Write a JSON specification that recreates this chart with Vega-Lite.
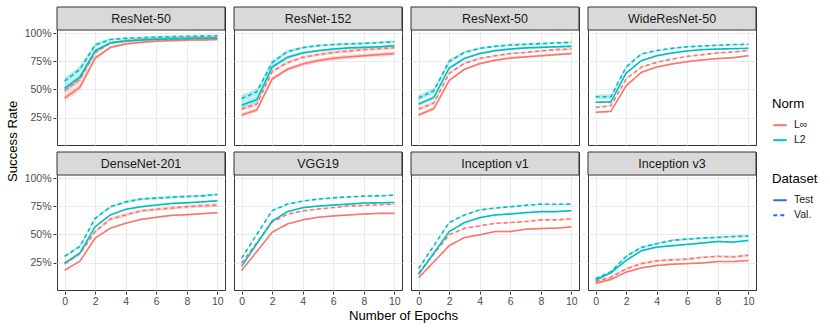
{
"$schema": "https://vega.github.io/schema/vega-lite/v6.json",
"background": "white",
"padding": {"left": 5, "top": 5, "right": 0, "bottom": 4},
"title": {"text": "Success Rate", "orient": "left", "anchor": "middle", "fontSize": 13.2, "fontWeight": "normal", "color": "#000000", "font": "Liberation Sans", "offset": 4, "dx": 22},
"vconcat": [{
"data": {"values": [
{"model":"ResNet-50","norm":"L∞","set":"Test","epoch":0,"rate":0.424,"lo":0.394,"hi":0.454},
{"model":"ResNet-50","norm":"L∞","set":"Test","epoch":1,"rate":0.52,"lo":0.49,"hi":0.55},
{"model":"ResNet-50","norm":"L∞","set":"Test","epoch":2,"rate":0.78,"lo":0.76,"hi":0.80},
{"model":"ResNet-50","norm":"L∞","set":"Test","epoch":3,"rate":0.875,"lo":0.863,"hi":0.887},
{"model":"ResNet-50","norm":"L∞","set":"Test","epoch":4,"rate":0.905,"lo":0.895,"hi":0.915},
{"model":"ResNet-50","norm":"L∞","set":"Test","epoch":5,"rate":0.92,"lo":0.91,"hi":0.93},
{"model":"ResNet-50","norm":"L∞","set":"Test","epoch":6,"rate":0.93,"lo":0.92,"hi":0.94},
{"model":"ResNet-50","norm":"L∞","set":"Test","epoch":7,"rate":0.935,"lo":0.925,"hi":0.945},
{"model":"ResNet-50","norm":"L∞","set":"Test","epoch":8,"rate":0.94,"lo":0.93,"hi":0.95},
{"model":"ResNet-50","norm":"L∞","set":"Test","epoch":9,"rate":0.94,"lo":0.93,"hi":0.95},
{"model":"ResNet-50","norm":"L∞","set":"Test","epoch":10,"rate":0.945,"lo":0.935,"hi":0.955},
{"model":"ResNet-50","norm":"L∞","set":"Val.","epoch":0,"rate":0.49,"lo":0.46,"hi":0.52},
{"model":"ResNet-50","norm":"L∞","set":"Val.","epoch":1,"rate":0.59,"lo":0.56,"hi":0.62},
{"model":"ResNet-50","norm":"L∞","set":"Val.","epoch":2,"rate":0.83,"lo":0.81,"hi":0.85},
{"model":"ResNet-50","norm":"L∞","set":"Val.","epoch":3,"rate":0.915,"lo":0.903,"hi":0.927},
{"model":"ResNet-50","norm":"L∞","set":"Val.","epoch":4,"rate":0.935,"lo":0.925,"hi":0.945},
{"model":"ResNet-50","norm":"L∞","set":"Val.","epoch":5,"rate":0.945,"lo":0.935,"hi":0.955},
{"model":"ResNet-50","norm":"L∞","set":"Val.","epoch":6,"rate":0.95,"lo":0.94,"hi":0.96},
{"model":"ResNet-50","norm":"L∞","set":"Val.","epoch":7,"rate":0.955,"lo":0.945,"hi":0.965},
{"model":"ResNet-50","norm":"L∞","set":"Val.","epoch":8,"rate":0.958,"lo":0.948,"hi":0.968},
{"model":"ResNet-50","norm":"L∞","set":"Val.","epoch":9,"rate":0.96,"lo":0.95,"hi":0.97},
{"model":"ResNet-50","norm":"L∞","set":"Val.","epoch":10,"rate":0.963,"lo":0.953,"hi":0.973},
{"model":"ResNet-50","norm":"L2","set":"Test","epoch":0,"rate":0.51,"lo":0.48,"hi":0.54},
{"model":"ResNet-50","norm":"L2","set":"Test","epoch":1,"rate":0.61,"lo":0.58,"hi":0.64},
{"model":"ResNet-50","norm":"L2","set":"Test","epoch":2,"rate":0.845,"lo":0.825,"hi":0.865},
{"model":"ResNet-50","norm":"L2","set":"Test","epoch":3,"rate":0.915,"lo":0.903,"hi":0.927},
{"model":"ResNet-50","norm":"L2","set":"Test","epoch":4,"rate":0.93,"lo":0.92,"hi":0.94},
{"model":"ResNet-50","norm":"L2","set":"Test","epoch":5,"rate":0.94,"lo":0.93,"hi":0.95},
{"model":"ResNet-50","norm":"L2","set":"Test","epoch":6,"rate":0.945,"lo":0.935,"hi":0.955},
{"model":"ResNet-50","norm":"L2","set":"Test","epoch":7,"rate":0.95,"lo":0.94,"hi":0.96},
{"model":"ResNet-50","norm":"L2","set":"Test","epoch":8,"rate":0.952,"lo":0.942,"hi":0.962},
{"model":"ResNet-50","norm":"L2","set":"Test","epoch":9,"rate":0.955,"lo":0.945,"hi":0.965},
{"model":"ResNet-50","norm":"L2","set":"Test","epoch":10,"rate":0.957,"lo":0.947,"hi":0.967},
{"model":"ResNet-50","norm":"L2","set":"Val.","epoch":0,"rate":0.575,"lo":0.545,"hi":0.605},
{"model":"ResNet-50","norm":"L2","set":"Val.","epoch":1,"rate":0.68,"lo":0.65,"hi":0.71},
{"model":"ResNet-50","norm":"L2","set":"Val.","epoch":2,"rate":0.895,"lo":0.875,"hi":0.915},
{"model":"ResNet-50","norm":"L2","set":"Val.","epoch":3,"rate":0.945,"lo":0.933,"hi":0.957},
{"model":"ResNet-50","norm":"L2","set":"Val.","epoch":4,"rate":0.955,"lo":0.945,"hi":0.965},
{"model":"ResNet-50","norm":"L2","set":"Val.","epoch":5,"rate":0.96,"lo":0.95,"hi":0.97},
{"model":"ResNet-50","norm":"L2","set":"Val.","epoch":6,"rate":0.965,"lo":0.955,"hi":0.975},
{"model":"ResNet-50","norm":"L2","set":"Val.","epoch":7,"rate":0.97,"lo":0.96,"hi":0.98},
{"model":"ResNet-50","norm":"L2","set":"Val.","epoch":8,"rate":0.972,"lo":0.962,"hi":0.982},
{"model":"ResNet-50","norm":"L2","set":"Val.","epoch":9,"rate":0.975,"lo":0.965,"hi":0.985},
{"model":"ResNet-50","norm":"L2","set":"Val.","epoch":10,"rate":0.977,"lo":0.967,"hi":0.987},
{"model":"ResNet-152","norm":"L∞","set":"Test","epoch":0,"rate":0.273,"lo":0.255,"hi":0.291},
{"model":"ResNet-152","norm":"L∞","set":"Test","epoch":1,"rate":0.318,"lo":0.30,"hi":0.336},
{"model":"ResNet-152","norm":"L∞","set":"Test","epoch":2,"rate":0.594,"lo":0.576,"hi":0.612},
{"model":"ResNet-152","norm":"L∞","set":"Test","epoch":3,"rate":0.68,"lo":0.662,"hi":0.698},
{"model":"ResNet-152","norm":"L∞","set":"Test","epoch":4,"rate":0.727,"lo":0.709,"hi":0.745},
{"model":"ResNet-152","norm":"L∞","set":"Test","epoch":5,"rate":0.757,"lo":0.739,"hi":0.775},
{"model":"ResNet-152","norm":"L∞","set":"Test","epoch":6,"rate":0.777,"lo":0.759,"hi":0.795},
{"model":"ResNet-152","norm":"L∞","set":"Test","epoch":7,"rate":0.79,"lo":0.772,"hi":0.808},
{"model":"ResNet-152","norm":"L∞","set":"Test","epoch":8,"rate":0.80,"lo":0.782,"hi":0.818},
{"model":"ResNet-152","norm":"L∞","set":"Test","epoch":9,"rate":0.81,"lo":0.792,"hi":0.828},
{"model":"ResNet-152","norm":"L∞","set":"Test","epoch":10,"rate":0.82,"lo":0.802,"hi":0.838},
{"model":"ResNet-152","norm":"L∞","set":"Val.","epoch":0,"rate":0.326,"lo":0.311,"hi":0.341},
{"model":"ResNet-152","norm":"L∞","set":"Val.","epoch":1,"rate":0.37,"lo":0.355,"hi":0.385},
{"model":"ResNet-152","norm":"L∞","set":"Val.","epoch":2,"rate":0.66,"lo":0.645,"hi":0.675},
{"model":"ResNet-152","norm":"L∞","set":"Val.","epoch":3,"rate":0.74,"lo":0.725,"hi":0.755},
{"model":"ResNet-152","norm":"L∞","set":"Val.","epoch":4,"rate":0.786,"lo":0.771,"hi":0.801},
{"model":"ResNet-152","norm":"L∞","set":"Val.","epoch":5,"rate":0.81,"lo":0.795,"hi":0.825},
{"model":"ResNet-152","norm":"L∞","set":"Val.","epoch":6,"rate":0.83,"lo":0.815,"hi":0.845},
{"model":"ResNet-152","norm":"L∞","set":"Val.","epoch":7,"rate":0.843,"lo":0.828,"hi":0.858},
{"model":"ResNet-152","norm":"L∞","set":"Val.","epoch":8,"rate":0.855,"lo":0.84,"hi":0.87},
{"model":"ResNet-152","norm":"L∞","set":"Val.","epoch":9,"rate":0.863,"lo":0.848,"hi":0.878},
{"model":"ResNet-152","norm":"L∞","set":"Val.","epoch":10,"rate":0.872,"lo":0.857,"hi":0.887},
{"model":"ResNet-152","norm":"L2","set":"Test","epoch":0,"rate":0.36,"lo":0.33,"hi":0.39},
{"model":"ResNet-152","norm":"L2","set":"Test","epoch":1,"rate":0.41,"lo":0.38,"hi":0.44},
{"model":"ResNet-152","norm":"L2","set":"Test","epoch":2,"rate":0.70,"lo":0.68,"hi":0.72},
{"model":"ResNet-152","norm":"L2","set":"Test","epoch":3,"rate":0.786,"lo":0.771,"hi":0.801},
{"model":"ResNet-152","norm":"L2","set":"Test","epoch":4,"rate":0.825,"lo":0.813,"hi":0.837},
{"model":"ResNet-152","norm":"L2","set":"Test","epoch":5,"rate":0.845,"lo":0.835,"hi":0.855},
{"model":"ResNet-152","norm":"L2","set":"Test","epoch":6,"rate":0.86,"lo":0.85,"hi":0.87},
{"model":"ResNet-152","norm":"L2","set":"Test","epoch":7,"rate":0.87,"lo":0.86,"hi":0.88},
{"model":"ResNet-152","norm":"L2","set":"Test","epoch":8,"rate":0.875,"lo":0.865,"hi":0.885},
{"model":"ResNet-152","norm":"L2","set":"Test","epoch":9,"rate":0.88,"lo":0.87,"hi":0.89},
{"model":"ResNet-152","norm":"L2","set":"Test","epoch":10,"rate":0.89,"lo":0.88,"hi":0.90},
{"model":"ResNet-152","norm":"L2","set":"Val.","epoch":0,"rate":0.42,"lo":0.39,"hi":0.45},
{"model":"ResNet-152","norm":"L2","set":"Val.","epoch":1,"rate":0.48,"lo":0.45,"hi":0.51},
{"model":"ResNet-152","norm":"L2","set":"Val.","epoch":2,"rate":0.74,"lo":0.72,"hi":0.76},
{"model":"ResNet-152","norm":"L2","set":"Val.","epoch":3,"rate":0.837,"lo":0.822,"hi":0.852},
{"model":"ResNet-152","norm":"L2","set":"Val.","epoch":4,"rate":0.872,"lo":0.86,"hi":0.884},
{"model":"ResNet-152","norm":"L2","set":"Val.","epoch":5,"rate":0.89,"lo":0.88,"hi":0.90},
{"model":"ResNet-152","norm":"L2","set":"Val.","epoch":6,"rate":0.90,"lo":0.89,"hi":0.91},
{"model":"ResNet-152","norm":"L2","set":"Val.","epoch":7,"rate":0.905,"lo":0.895,"hi":0.915},
{"model":"ResNet-152","norm":"L2","set":"Val.","epoch":8,"rate":0.91,"lo":0.90,"hi":0.92},
{"model":"ResNet-152","norm":"L2","set":"Val.","epoch":9,"rate":0.917,"lo":0.907,"hi":0.927},
{"model":"ResNet-152","norm":"L2","set":"Val.","epoch":10,"rate":0.926,"lo":0.916,"hi":0.936},
{"model":"ResNext-50","norm":"L∞","set":"Test","epoch":0,"rate":0.273,"lo":0.258,"hi":0.288},
{"model":"ResNext-50","norm":"L∞","set":"Test","epoch":1,"rate":0.33,"lo":0.315,"hi":0.345},
{"model":"ResNext-50","norm":"L∞","set":"Test","epoch":2,"rate":0.58,"lo":0.568,"hi":0.592},
{"model":"ResNext-50","norm":"L∞","set":"Test","epoch":3,"rate":0.68,"lo":0.67,"hi":0.69},
{"model":"ResNext-50","norm":"L∞","set":"Test","epoch":4,"rate":0.73,"lo":0.72,"hi":0.74},
{"model":"ResNext-50","norm":"L∞","set":"Test","epoch":5,"rate":0.76,"lo":0.75,"hi":0.77},
{"model":"ResNext-50","norm":"L∞","set":"Test","epoch":6,"rate":0.78,"lo":0.77,"hi":0.79},
{"model":"ResNext-50","norm":"L∞","set":"Test","epoch":7,"rate":0.79,"lo":0.78,"hi":0.80},
{"model":"ResNext-50","norm":"L∞","set":"Test","epoch":8,"rate":0.80,"lo":0.79,"hi":0.81},
{"model":"ResNext-50","norm":"L∞","set":"Test","epoch":9,"rate":0.81,"lo":0.80,"hi":0.82},
{"model":"ResNext-50","norm":"L∞","set":"Test","epoch":10,"rate":0.82,"lo":0.81,"hi":0.83},
{"model":"ResNext-50","norm":"L∞","set":"Val.","epoch":0,"rate":0.326,"lo":0.311,"hi":0.341},
{"model":"ResNext-50","norm":"L∞","set":"Val.","epoch":1,"rate":0.38,"lo":0.365,"hi":0.395},
{"model":"ResNext-50","norm":"L∞","set":"Val.","epoch":2,"rate":0.644,"lo":0.632,"hi":0.656},
{"model":"ResNext-50","norm":"L∞","set":"Val.","epoch":3,"rate":0.733,"lo":0.723,"hi":0.743},
{"model":"ResNext-50","norm":"L∞","set":"Val.","epoch":4,"rate":0.777,"lo":0.767,"hi":0.787},
{"model":"ResNext-50","norm":"L∞","set":"Val.","epoch":5,"rate":0.80,"lo":0.79,"hi":0.81},
{"model":"ResNext-50","norm":"L∞","set":"Val.","epoch":6,"rate":0.82,"lo":0.81,"hi":0.83},
{"model":"ResNext-50","norm":"L∞","set":"Val.","epoch":7,"rate":0.83,"lo":0.82,"hi":0.84},
{"model":"ResNext-50","norm":"L∞","set":"Val.","epoch":8,"rate":0.843,"lo":0.833,"hi":0.853},
{"model":"ResNext-50","norm":"L∞","set":"Val.","epoch":9,"rate":0.855,"lo":0.845,"hi":0.865},
{"model":"ResNext-50","norm":"L∞","set":"Val.","epoch":10,"rate":0.86,"lo":0.85,"hi":0.87},
{"model":"ResNext-50","norm":"L2","set":"Test","epoch":0,"rate":0.37,"lo":0.355,"hi":0.385},
{"model":"ResNext-50","norm":"L2","set":"Test","epoch":1,"rate":0.43,"lo":0.415,"hi":0.445},
{"model":"ResNext-50","norm":"L2","set":"Test","epoch":2,"rate":0.69,"lo":0.678,"hi":0.702},
{"model":"ResNext-50","norm":"L2","set":"Test","epoch":3,"rate":0.777,"lo":0.767,"hi":0.787},
{"model":"ResNext-50","norm":"L2","set":"Test","epoch":4,"rate":0.82,"lo":0.81,"hi":0.83},
{"model":"ResNext-50","norm":"L2","set":"Test","epoch":5,"rate":0.845,"lo":0.835,"hi":0.855},
{"model":"ResNext-50","norm":"L2","set":"Test","epoch":6,"rate":0.86,"lo":0.85,"hi":0.87},
{"model":"ResNext-50","norm":"L2","set":"Test","epoch":7,"rate":0.87,"lo":0.86,"hi":0.88},
{"model":"ResNext-50","norm":"L2","set":"Test","epoch":8,"rate":0.875,"lo":0.865,"hi":0.885},
{"model":"ResNext-50","norm":"L2","set":"Test","epoch":9,"rate":0.88,"lo":0.87,"hi":0.89},
{"model":"ResNext-50","norm":"L2","set":"Test","epoch":10,"rate":0.884,"lo":0.874,"hi":0.894},
{"model":"ResNext-50","norm":"L2","set":"Val.","epoch":0,"rate":0.424,"lo":0.399,"hi":0.449},
{"model":"ResNext-50","norm":"L2","set":"Val.","epoch":1,"rate":0.49,"lo":0.465,"hi":0.515},
{"model":"ResNext-50","norm":"L2","set":"Val.","epoch":2,"rate":0.75,"lo":0.73,"hi":0.77},
{"model":"ResNext-50","norm":"L2","set":"Val.","epoch":3,"rate":0.83,"lo":0.818,"hi":0.842},
{"model":"ResNext-50","norm":"L2","set":"Val.","epoch":4,"rate":0.866,"lo":0.856,"hi":0.876},
{"model":"ResNext-50","norm":"L2","set":"Val.","epoch":5,"rate":0.884,"lo":0.874,"hi":0.894},
{"model":"ResNext-50","norm":"L2","set":"Val.","epoch":6,"rate":0.896,"lo":0.886,"hi":0.906},
{"model":"ResNext-50","norm":"L2","set":"Val.","epoch":7,"rate":0.902,"lo":0.892,"hi":0.912},
{"model":"ResNext-50","norm":"L2","set":"Val.","epoch":8,"rate":0.908,"lo":0.898,"hi":0.918},
{"model":"ResNext-50","norm":"L2","set":"Val.","epoch":9,"rate":0.914,"lo":0.904,"hi":0.924},
{"model":"ResNext-50","norm":"L2","set":"Val.","epoch":10,"rate":0.92,"lo":0.91,"hi":0.93},
{"model":"WideResNet-50","norm":"L∞","set":"Test","epoch":0,"rate":0.297,"lo":0.291,"hi":0.303},
{"model":"WideResNet-50","norm":"L∞","set":"Test","epoch":1,"rate":0.305,"lo":0.299,"hi":0.311},
{"model":"WideResNet-50","norm":"L∞","set":"Test","epoch":2,"rate":0.534,"lo":0.528,"hi":0.54},
{"model":"WideResNet-50","norm":"L∞","set":"Test","epoch":3,"rate":0.653,"lo":0.647,"hi":0.659},
{"model":"WideResNet-50","norm":"L∞","set":"Test","epoch":4,"rate":0.70,"lo":0.694,"hi":0.706},
{"model":"WideResNet-50","norm":"L∞","set":"Test","epoch":5,"rate":0.727,"lo":0.721,"hi":0.733},
{"model":"WideResNet-50","norm":"L∞","set":"Test","epoch":6,"rate":0.748,"lo":0.742,"hi":0.754},
{"model":"WideResNet-50","norm":"L∞","set":"Test","epoch":7,"rate":0.763,"lo":0.757,"hi":0.769},
{"model":"WideResNet-50","norm":"L∞","set":"Test","epoch":8,"rate":0.775,"lo":0.769,"hi":0.781},
{"model":"WideResNet-50","norm":"L∞","set":"Test","epoch":9,"rate":0.783,"lo":0.777,"hi":0.789},
{"model":"WideResNet-50","norm":"L∞","set":"Test","epoch":10,"rate":0.80,"lo":0.794,"hi":0.806},
{"model":"WideResNet-50","norm":"L∞","set":"Val.","epoch":0,"rate":0.34,"lo":0.334,"hi":0.346},
{"model":"WideResNet-50","norm":"L∞","set":"Val.","epoch":1,"rate":0.356,"lo":0.35,"hi":0.362},
{"model":"WideResNet-50","norm":"L∞","set":"Val.","epoch":2,"rate":0.594,"lo":0.588,"hi":0.60},
{"model":"WideResNet-50","norm":"L∞","set":"Val.","epoch":3,"rate":0.70,"lo":0.694,"hi":0.706},
{"model":"WideResNet-50","norm":"L∞","set":"Val.","epoch":4,"rate":0.742,"lo":0.736,"hi":0.748},
{"model":"WideResNet-50","norm":"L∞","set":"Val.","epoch":5,"rate":0.77,"lo":0.764,"hi":0.776},
{"model":"WideResNet-50","norm":"L∞","set":"Val.","epoch":6,"rate":0.795,"lo":0.789,"hi":0.801},
{"model":"WideResNet-50","norm":"L∞","set":"Val.","epoch":7,"rate":0.81,"lo":0.804,"hi":0.816},
{"model":"WideResNet-50","norm":"L∞","set":"Val.","epoch":8,"rate":0.825,"lo":0.819,"hi":0.831},
{"model":"WideResNet-50","norm":"L∞","set":"Val.","epoch":9,"rate":0.834,"lo":0.828,"hi":0.84},
{"model":"WideResNet-50","norm":"L∞","set":"Val.","epoch":10,"rate":0.846,"lo":0.84,"hi":0.852},
{"model":"WideResNet-50","norm":"L2","set":"Test","epoch":0,"rate":0.386,"lo":0.38,"hi":0.392},
{"model":"WideResNet-50","norm":"L2","set":"Test","epoch":1,"rate":0.39,"lo":0.384,"hi":0.396},
{"model":"WideResNet-50","norm":"L2","set":"Test","epoch":2,"rate":0.647,"lo":0.641,"hi":0.653},
{"model":"WideResNet-50","norm":"L2","set":"Test","epoch":3,"rate":0.757,"lo":0.751,"hi":0.763},
{"model":"WideResNet-50","norm":"L2","set":"Test","epoch":4,"rate":0.80,"lo":0.794,"hi":0.806},
{"model":"WideResNet-50","norm":"L2","set":"Test","epoch":5,"rate":0.825,"lo":0.819,"hi":0.831},
{"model":"WideResNet-50","norm":"L2","set":"Test","epoch":6,"rate":0.843,"lo":0.837,"hi":0.849},
{"model":"WideResNet-50","norm":"L2","set":"Test","epoch":7,"rate":0.855,"lo":0.849,"hi":0.861},
{"model":"WideResNet-50","norm":"L2","set":"Test","epoch":8,"rate":0.86,"lo":0.854,"hi":0.866},
{"model":"WideResNet-50","norm":"L2","set":"Test","epoch":9,"rate":0.863,"lo":0.857,"hi":0.869},
{"model":"WideResNet-50","norm":"L2","set":"Test","epoch":10,"rate":0.866,"lo":0.86,"hi":0.872},
{"model":"WideResNet-50","norm":"L2","set":"Val.","epoch":0,"rate":0.436,"lo":0.416,"hi":0.456},
{"model":"WideResNet-50","norm":"L2","set":"Val.","epoch":1,"rate":0.436,"lo":0.416,"hi":0.456},
{"model":"WideResNet-50","norm":"L2","set":"Val.","epoch":2,"rate":0.70,"lo":0.688,"hi":0.712},
{"model":"WideResNet-50","norm":"L2","set":"Val.","epoch":3,"rate":0.816,"lo":0.808,"hi":0.824},
{"model":"WideResNet-50","norm":"L2","set":"Val.","epoch":4,"rate":0.846,"lo":0.84,"hi":0.852},
{"model":"WideResNet-50","norm":"L2","set":"Val.","epoch":5,"rate":0.866,"lo":0.86,"hi":0.872},
{"model":"WideResNet-50","norm":"L2","set":"Val.","epoch":6,"rate":0.88,"lo":0.874,"hi":0.886},
{"model":"WideResNet-50","norm":"L2","set":"Val.","epoch":7,"rate":0.887,"lo":0.881,"hi":0.893},
{"model":"WideResNet-50","norm":"L2","set":"Val.","epoch":8,"rate":0.893,"lo":0.887,"hi":0.899},
{"model":"WideResNet-50","norm":"L2","set":"Val.","epoch":9,"rate":0.90,"lo":0.894,"hi":0.906},
{"model":"WideResNet-50","norm":"L2","set":"Val.","epoch":10,"rate":0.902,"lo":0.896,"hi":0.908},
{"model":"DenseNet-201","norm":"L∞","set":"Test","epoch":0,"rate":0.182,"lo":0.176,"hi":0.188},
{"model":"DenseNet-201","norm":"L∞","set":"Test","epoch":1,"rate":0.262,"lo":0.256,"hi":0.268},
{"model":"DenseNet-201","norm":"L∞","set":"Test","epoch":2,"rate":0.468,"lo":0.462,"hi":0.474},
{"model":"DenseNet-201","norm":"L∞","set":"Test","epoch":3,"rate":0.556,"lo":0.55,"hi":0.562},
{"model":"DenseNet-201","norm":"L∞","set":"Test","epoch":4,"rate":0.60,"lo":0.594,"hi":0.606},
{"model":"DenseNet-201","norm":"L∞","set":"Test","epoch":5,"rate":0.635,"lo":0.629,"hi":0.641},
{"model":"DenseNet-201","norm":"L∞","set":"Test","epoch":6,"rate":0.653,"lo":0.647,"hi":0.659},
{"model":"DenseNet-201","norm":"L∞","set":"Test","epoch":7,"rate":0.67,"lo":0.664,"hi":0.676},
{"model":"DenseNet-201","norm":"L∞","set":"Test","epoch":8,"rate":0.676,"lo":0.67,"hi":0.682},
{"model":"DenseNet-201","norm":"L∞","set":"Test","epoch":9,"rate":0.685,"lo":0.679,"hi":0.691},
{"model":"DenseNet-201","norm":"L∞","set":"Test","epoch":10,"rate":0.694,"lo":0.688,"hi":0.70},
{"model":"DenseNet-201","norm":"L∞","set":"Val.","epoch":0,"rate":0.24,"lo":0.225,"hi":0.255},
{"model":"DenseNet-201","norm":"L∞","set":"Val.","epoch":1,"rate":0.33,"lo":0.315,"hi":0.345},
{"model":"DenseNet-201","norm":"L∞","set":"Val.","epoch":2,"rate":0.526,"lo":0.511,"hi":0.541},
{"model":"DenseNet-201","norm":"L∞","set":"Val.","epoch":3,"rate":0.638,"lo":0.623,"hi":0.653},
{"model":"DenseNet-201","norm":"L∞","set":"Val.","epoch":4,"rate":0.674,"lo":0.659,"hi":0.689},
{"model":"DenseNet-201","norm":"L∞","set":"Val.","epoch":5,"rate":0.71,"lo":0.695,"hi":0.725},
{"model":"DenseNet-201","norm":"L∞","set":"Val.","epoch":6,"rate":0.724,"lo":0.709,"hi":0.739},
{"model":"DenseNet-201","norm":"L∞","set":"Val.","epoch":7,"rate":0.735,"lo":0.72,"hi":0.75},
{"model":"DenseNet-201","norm":"L∞","set":"Val.","epoch":8,"rate":0.747,"lo":0.732,"hi":0.762},
{"model":"DenseNet-201","norm":"L∞","set":"Val.","epoch":9,"rate":0.756,"lo":0.741,"hi":0.771},
{"model":"DenseNet-201","norm":"L∞","set":"Val.","epoch":10,"rate":0.76,"lo":0.745,"hi":0.775},
{"model":"DenseNet-201","norm":"L2","set":"Test","epoch":0,"rate":0.245,"lo":0.239,"hi":0.251},
{"model":"DenseNet-201","norm":"L2","set":"Test","epoch":1,"rate":0.335,"lo":0.329,"hi":0.341},
{"model":"DenseNet-201","norm":"L2","set":"Test","epoch":2,"rate":0.57,"lo":0.564,"hi":0.576},
{"model":"DenseNet-201","norm":"L2","set":"Test","epoch":3,"rate":0.674,"lo":0.668,"hi":0.68},
{"model":"DenseNet-201","norm":"L2","set":"Test","epoch":4,"rate":0.724,"lo":0.718,"hi":0.73},
{"model":"DenseNet-201","norm":"L2","set":"Test","epoch":5,"rate":0.747,"lo":0.741,"hi":0.753},
{"model":"DenseNet-201","norm":"L2","set":"Test","epoch":6,"rate":0.762,"lo":0.756,"hi":0.768},
{"model":"DenseNet-201","norm":"L2","set":"Test","epoch":7,"rate":0.776,"lo":0.77,"hi":0.782},
{"model":"DenseNet-201","norm":"L2","set":"Test","epoch":8,"rate":0.782,"lo":0.776,"hi":0.788},
{"model":"DenseNet-201","norm":"L2","set":"Test","epoch":9,"rate":0.79,"lo":0.784,"hi":0.796},
{"model":"DenseNet-201","norm":"L2","set":"Test","epoch":10,"rate":0.80,"lo":0.794,"hi":0.806},
{"model":"DenseNet-201","norm":"L2","set":"Val.","epoch":0,"rate":0.306,"lo":0.294,"hi":0.318},
{"model":"DenseNet-201","norm":"L2","set":"Val.","epoch":1,"rate":0.394,"lo":0.382,"hi":0.406},
{"model":"DenseNet-201","norm":"L2","set":"Val.","epoch":2,"rate":0.644,"lo":0.632,"hi":0.656},
{"model":"DenseNet-201","norm":"L2","set":"Val.","epoch":3,"rate":0.747,"lo":0.735,"hi":0.759},
{"model":"DenseNet-201","norm":"L2","set":"Val.","epoch":4,"rate":0.79,"lo":0.778,"hi":0.802},
{"model":"DenseNet-201","norm":"L2","set":"Val.","epoch":5,"rate":0.815,"lo":0.803,"hi":0.827},
{"model":"DenseNet-201","norm":"L2","set":"Val.","epoch":6,"rate":0.824,"lo":0.812,"hi":0.836},
{"model":"DenseNet-201","norm":"L2","set":"Val.","epoch":7,"rate":0.832,"lo":0.82,"hi":0.844},
{"model":"DenseNet-201","norm":"L2","set":"Val.","epoch":8,"rate":0.838,"lo":0.826,"hi":0.85},
{"model":"DenseNet-201","norm":"L2","set":"Val.","epoch":9,"rate":0.844,"lo":0.832,"hi":0.856},
{"model":"DenseNet-201","norm":"L2","set":"Val.","epoch":10,"rate":0.856,"lo":0.844,"hi":0.868},
{"model":"VGG19","norm":"L∞","set":"Test","epoch":0,"rate":0.18,"lo":0.175,"hi":0.185},
{"model":"VGG19","norm":"L∞","set":"Test","epoch":2,"rate":0.52,"lo":0.515,"hi":0.525},
{"model":"VGG19","norm":"L∞","set":"Test","epoch":3,"rate":0.594,"lo":0.589,"hi":0.599},
{"model":"VGG19","norm":"L∞","set":"Test","epoch":4,"rate":0.63,"lo":0.625,"hi":0.635},
{"model":"VGG19","norm":"L∞","set":"Test","epoch":5,"rate":0.653,"lo":0.648,"hi":0.658},
{"model":"VGG19","norm":"L∞","set":"Test","epoch":6,"rate":0.665,"lo":0.66,"hi":0.67},
{"model":"VGG19","norm":"L∞","set":"Test","epoch":7,"rate":0.674,"lo":0.669,"hi":0.679},
{"model":"VGG19","norm":"L∞","set":"Test","epoch":8,"rate":0.682,"lo":0.677,"hi":0.687},
{"model":"VGG19","norm":"L∞","set":"Test","epoch":9,"rate":0.688,"lo":0.683,"hi":0.693},
{"model":"VGG19","norm":"L∞","set":"Test","epoch":10,"rate":0.688,"lo":0.683,"hi":0.693},
{"model":"VGG19","norm":"L∞","set":"Val.","epoch":0,"rate":0.247,"lo":0.242,"hi":0.252},
{"model":"VGG19","norm":"L∞","set":"Val.","epoch":2,"rate":0.61,"lo":0.605,"hi":0.615},
{"model":"VGG19","norm":"L∞","set":"Val.","epoch":3,"rate":0.68,"lo":0.675,"hi":0.685},
{"model":"VGG19","norm":"L∞","set":"Val.","epoch":4,"rate":0.71,"lo":0.705,"hi":0.715},
{"model":"VGG19","norm":"L∞","set":"Val.","epoch":5,"rate":0.726,"lo":0.721,"hi":0.731},
{"model":"VGG19","norm":"L∞","set":"Val.","epoch":6,"rate":0.74,"lo":0.735,"hi":0.745},
{"model":"VGG19","norm":"L∞","set":"Val.","epoch":7,"rate":0.753,"lo":0.748,"hi":0.758},
{"model":"VGG19","norm":"L∞","set":"Val.","epoch":8,"rate":0.759,"lo":0.754,"hi":0.764},
{"model":"VGG19","norm":"L∞","set":"Val.","epoch":9,"rate":0.765,"lo":0.76,"hi":0.77},
{"model":"VGG19","norm":"L∞","set":"Val.","epoch":10,"rate":0.77,"lo":0.765,"hi":0.775},
{"model":"VGG19","norm":"L2","set":"Test","epoch":0,"rate":0.218,"lo":0.213,"hi":0.223},
{"model":"VGG19","norm":"L2","set":"Test","epoch":2,"rate":0.62,"lo":0.615,"hi":0.625},
{"model":"VGG19","norm":"L2","set":"Test","epoch":3,"rate":0.703,"lo":0.698,"hi":0.708},
{"model":"VGG19","norm":"L2","set":"Test","epoch":4,"rate":0.738,"lo":0.733,"hi":0.743},
{"model":"VGG19","norm":"L2","set":"Test","epoch":5,"rate":0.753,"lo":0.748,"hi":0.758},
{"model":"VGG19","norm":"L2","set":"Test","epoch":6,"rate":0.762,"lo":0.757,"hi":0.767},
{"model":"VGG19","norm":"L2","set":"Test","epoch":7,"rate":0.77,"lo":0.765,"hi":0.775},
{"model":"VGG19","norm":"L2","set":"Test","epoch":8,"rate":0.78,"lo":0.775,"hi":0.785},
{"model":"VGG19","norm":"L2","set":"Test","epoch":9,"rate":0.782,"lo":0.777,"hi":0.787},
{"model":"VGG19","norm":"L2","set":"Test","epoch":10,"rate":0.785,"lo":0.78,"hi":0.79},
{"model":"VGG19","norm":"L2","set":"Val.","epoch":0,"rate":0.29,"lo":0.285,"hi":0.295},
{"model":"VGG19","norm":"L2","set":"Val.","epoch":2,"rate":0.712,"lo":0.707,"hi":0.717},
{"model":"VGG19","norm":"L2","set":"Val.","epoch":3,"rate":0.77,"lo":0.765,"hi":0.775},
{"model":"VGG19","norm":"L2","set":"Val.","epoch":4,"rate":0.797,"lo":0.792,"hi":0.802},
{"model":"VGG19","norm":"L2","set":"Val.","epoch":5,"rate":0.815,"lo":0.81,"hi":0.82},
{"model":"VGG19","norm":"L2","set":"Val.","epoch":6,"rate":0.826,"lo":0.821,"hi":0.831},
{"model":"VGG19","norm":"L2","set":"Val.","epoch":7,"rate":0.835,"lo":0.83,"hi":0.84},
{"model":"VGG19","norm":"L2","set":"Val.","epoch":8,"rate":0.841,"lo":0.836,"hi":0.846},
{"model":"VGG19","norm":"L2","set":"Val.","epoch":9,"rate":0.844,"lo":0.839,"hi":0.849},
{"model":"VGG19","norm":"L2","set":"Val.","epoch":10,"rate":0.85,"lo":0.845,"hi":0.855},
{"model":"Inception v1","norm":"L∞","set":"Test","epoch":0,"rate":0.115,"lo":0.109,"hi":0.121},
{"model":"Inception v1","norm":"L∞","set":"Test","epoch":2,"rate":0.40,"lo":0.394,"hi":0.406},
{"model":"Inception v1","norm":"L∞","set":"Test","epoch":3,"rate":0.473,"lo":0.467,"hi":0.479},
{"model":"Inception v1","norm":"L∞","set":"Test","epoch":4,"rate":0.497,"lo":0.491,"hi":0.503},
{"model":"Inception v1","norm":"L∞","set":"Test","epoch":5,"rate":0.526,"lo":0.52,"hi":0.532},
{"model":"Inception v1","norm":"L∞","set":"Test","epoch":6,"rate":0.526,"lo":0.52,"hi":0.532},
{"model":"Inception v1","norm":"L∞","set":"Test","epoch":7,"rate":0.547,"lo":0.541,"hi":0.553},
{"model":"Inception v1","norm":"L∞","set":"Test","epoch":8,"rate":0.553,"lo":0.547,"hi":0.559},
{"model":"Inception v1","norm":"L∞","set":"Test","epoch":9,"rate":0.556,"lo":0.55,"hi":0.562},
{"model":"Inception v1","norm":"L∞","set":"Test","epoch":10,"rate":0.567,"lo":0.561,"hi":0.573},
{"model":"Inception v1","norm":"L∞","set":"Val.","epoch":0,"rate":0.159,"lo":0.153,"hi":0.165},
{"model":"Inception v1","norm":"L∞","set":"Val.","epoch":2,"rate":0.497,"lo":0.491,"hi":0.503},
{"model":"Inception v1","norm":"L∞","set":"Val.","epoch":3,"rate":0.556,"lo":0.55,"hi":0.562},
{"model":"Inception v1","norm":"L∞","set":"Val.","epoch":4,"rate":0.576,"lo":0.57,"hi":0.582},
{"model":"Inception v1","norm":"L∞","set":"Val.","epoch":5,"rate":0.60,"lo":0.594,"hi":0.606},
{"model":"Inception v1","norm":"L∞","set":"Val.","epoch":6,"rate":0.606,"lo":0.60,"hi":0.612},
{"model":"Inception v1","norm":"L∞","set":"Val.","epoch":7,"rate":0.615,"lo":0.609,"hi":0.621},
{"model":"Inception v1","norm":"L∞","set":"Val.","epoch":8,"rate":0.63,"lo":0.624,"hi":0.636},
{"model":"Inception v1","norm":"L∞","set":"Val.","epoch":9,"rate":0.63,"lo":0.624,"hi":0.636},
{"model":"Inception v1","norm":"L∞","set":"Val.","epoch":10,"rate":0.64,"lo":0.634,"hi":0.646},
{"model":"Inception v1","norm":"L2","set":"Test","epoch":0,"rate":0.144,"lo":0.138,"hi":0.15},
{"model":"Inception v1","norm":"L2","set":"Test","epoch":2,"rate":0.526,"lo":0.52,"hi":0.532},
{"model":"Inception v1","norm":"L2","set":"Test","epoch":3,"rate":0.606,"lo":0.60,"hi":0.612},
{"model":"Inception v1","norm":"L2","set":"Test","epoch":4,"rate":0.65,"lo":0.644,"hi":0.656},
{"model":"Inception v1","norm":"L2","set":"Test","epoch":5,"rate":0.674,"lo":0.668,"hi":0.68},
{"model":"Inception v1","norm":"L2","set":"Test","epoch":6,"rate":0.682,"lo":0.676,"hi":0.688},
{"model":"Inception v1","norm":"L2","set":"Test","epoch":7,"rate":0.694,"lo":0.688,"hi":0.70},
{"model":"Inception v1","norm":"L2","set":"Test","epoch":8,"rate":0.703,"lo":0.697,"hi":0.709},
{"model":"Inception v1","norm":"L2","set":"Test","epoch":9,"rate":0.703,"lo":0.697,"hi":0.709},
{"model":"Inception v1","norm":"L2","set":"Test","epoch":10,"rate":0.712,"lo":0.706,"hi":0.718},
{"model":"Inception v1","norm":"L2","set":"Val.","epoch":0,"rate":0.197,"lo":0.191,"hi":0.203},
{"model":"Inception v1","norm":"L2","set":"Val.","epoch":2,"rate":0.606,"lo":0.60,"hi":0.612},
{"model":"Inception v1","norm":"L2","set":"Val.","epoch":3,"rate":0.674,"lo":0.668,"hi":0.68},
{"model":"Inception v1","norm":"L2","set":"Val.","epoch":4,"rate":0.718,"lo":0.712,"hi":0.724},
{"model":"Inception v1","norm":"L2","set":"Val.","epoch":5,"rate":0.735,"lo":0.729,"hi":0.741},
{"model":"Inception v1","norm":"L2","set":"Val.","epoch":6,"rate":0.747,"lo":0.741,"hi":0.753},
{"model":"Inception v1","norm":"L2","set":"Val.","epoch":7,"rate":0.759,"lo":0.753,"hi":0.765},
{"model":"Inception v1","norm":"L2","set":"Val.","epoch":8,"rate":0.77,"lo":0.764,"hi":0.776},
{"model":"Inception v1","norm":"L2","set":"Val.","epoch":9,"rate":0.768,"lo":0.762,"hi":0.774},
{"model":"Inception v1","norm":"L2","set":"Val.","epoch":10,"rate":0.77,"lo":0.764,"hi":0.776},
{"model":"Inception v3","norm":"L∞","set":"Test","epoch":0,"rate":0.065,"lo":0.059,"hi":0.071},
{"model":"Inception v3","norm":"L∞","set":"Test","epoch":1,"rate":0.10,"lo":0.094,"hi":0.106},
{"model":"Inception v3","norm":"L∞","set":"Test","epoch":2,"rate":0.165,"lo":0.159,"hi":0.171},
{"model":"Inception v3","norm":"L∞","set":"Test","epoch":3,"rate":0.203,"lo":0.197,"hi":0.209},
{"model":"Inception v3","norm":"L∞","set":"Test","epoch":4,"rate":0.224,"lo":0.218,"hi":0.23},
{"model":"Inception v3","norm":"L∞","set":"Test","epoch":5,"rate":0.235,"lo":0.229,"hi":0.241},
{"model":"Inception v3","norm":"L∞","set":"Test","epoch":6,"rate":0.241,"lo":0.235,"hi":0.247},
{"model":"Inception v3","norm":"L∞","set":"Test","epoch":7,"rate":0.247,"lo":0.241,"hi":0.253},
{"model":"Inception v3","norm":"L∞","set":"Test","epoch":8,"rate":0.259,"lo":0.253,"hi":0.265},
{"model":"Inception v3","norm":"L∞","set":"Test","epoch":9,"rate":0.259,"lo":0.253,"hi":0.265},
{"model":"Inception v3","norm":"L∞","set":"Test","epoch":10,"rate":0.268,"lo":0.262,"hi":0.274},
{"model":"Inception v3","norm":"L∞","set":"Val.","epoch":0,"rate":0.082,"lo":0.072,"hi":0.092},
{"model":"Inception v3","norm":"L∞","set":"Val.","epoch":1,"rate":0.12,"lo":0.11,"hi":0.13},
{"model":"Inception v3","norm":"L∞","set":"Val.","epoch":2,"rate":0.194,"lo":0.184,"hi":0.204},
{"model":"Inception v3","norm":"L∞","set":"Val.","epoch":3,"rate":0.241,"lo":0.231,"hi":0.251},
{"model":"Inception v3","norm":"L∞","set":"Val.","epoch":4,"rate":0.265,"lo":0.255,"hi":0.275},
{"model":"Inception v3","norm":"L∞","set":"Val.","epoch":5,"rate":0.274,"lo":0.264,"hi":0.284},
{"model":"Inception v3","norm":"L∞","set":"Val.","epoch":6,"rate":0.28,"lo":0.27,"hi":0.29},
{"model":"Inception v3","norm":"L∞","set":"Val.","epoch":7,"rate":0.297,"lo":0.287,"hi":0.307},
{"model":"Inception v3","norm":"L∞","set":"Val.","epoch":8,"rate":0.306,"lo":0.296,"hi":0.316},
{"model":"Inception v3","norm":"L∞","set":"Val.","epoch":9,"rate":0.30,"lo":0.29,"hi":0.31},
{"model":"Inception v3","norm":"L∞","set":"Val.","epoch":10,"rate":0.315,"lo":0.305,"hi":0.325},
{"model":"Inception v3","norm":"L2","set":"Test","epoch":0,"rate":0.094,"lo":0.088,"hi":0.10},
{"model":"Inception v3","norm":"L2","set":"Test","epoch":1,"rate":0.159,"lo":0.153,"hi":0.165},
{"model":"Inception v3","norm":"L2","set":"Test","epoch":2,"rate":0.27,"lo":0.264,"hi":0.276},
{"model":"Inception v3","norm":"L2","set":"Test","epoch":3,"rate":0.356,"lo":0.35,"hi":0.362},
{"model":"Inception v3","norm":"L2","set":"Test","epoch":4,"rate":0.388,"lo":0.382,"hi":0.394},
{"model":"Inception v3","norm":"L2","set":"Test","epoch":5,"rate":0.40,"lo":0.394,"hi":0.406},
{"model":"Inception v3","norm":"L2","set":"Test","epoch":6,"rate":0.412,"lo":0.406,"hi":0.418},
{"model":"Inception v3","norm":"L2","set":"Test","epoch":7,"rate":0.424,"lo":0.418,"hi":0.43},
{"model":"Inception v3","norm":"L2","set":"Test","epoch":8,"rate":0.438,"lo":0.432,"hi":0.444},
{"model":"Inception v3","norm":"L2","set":"Test","epoch":9,"rate":0.432,"lo":0.426,"hi":0.438},
{"model":"Inception v3","norm":"L2","set":"Test","epoch":10,"rate":0.447,"lo":0.441,"hi":0.453},
{"model":"Inception v3","norm":"L2","set":"Val.","epoch":0,"rate":0.106,"lo":0.096,"hi":0.116},
{"model":"Inception v3","norm":"L2","set":"Val.","epoch":1,"rate":0.168,"lo":0.158,"hi":0.178},
{"model":"Inception v3","norm":"L2","set":"Val.","epoch":2,"rate":0.306,"lo":0.296,"hi":0.316},
{"model":"Inception v3","norm":"L2","set":"Val.","epoch":3,"rate":0.385,"lo":0.375,"hi":0.395},
{"model":"Inception v3","norm":"L2","set":"Val.","epoch":4,"rate":0.418,"lo":0.408,"hi":0.428},
{"model":"Inception v3","norm":"L2","set":"Val.","epoch":5,"rate":0.447,"lo":0.437,"hi":0.457},
{"model":"Inception v3","norm":"L2","set":"Val.","epoch":6,"rate":0.459,"lo":0.449,"hi":0.469},
{"model":"Inception v3","norm":"L2","set":"Val.","epoch":7,"rate":0.468,"lo":0.458,"hi":0.478},
{"model":"Inception v3","norm":"L2","set":"Val.","epoch":8,"rate":0.474,"lo":0.464,"hi":0.484},
{"model":"Inception v3","norm":"L2","set":"Val.","epoch":9,"rate":0.482,"lo":0.472,"hi":0.492},
{"model":"Inception v3","norm":"L2","set":"Val.","epoch":10,"rate":0.485,"lo":0.475,"hi":0.495}
]},
"title": {"text": "Number of Epochs", "orient": "bottom", "anchor": "middle", "fontSize": 13.2, "fontWeight": "normal", "color": "#000000", "font": "Liberation Sans", "offset": 3, "dx": 13},
"facet": {"field": "model", "type": "nominal", "title": null, "sort": ["ResNet-50", "ResNet-152", "ResNext-50", "WideResNet-50", "DenseNet-201", "VGG19", "Inception v1", "Inception v3"], "header": {"labels": false, "title": null, "labelExpr": "''", "labelFontSize": 1, "labelPadding": 0}},
"columns": 4,
"spacing": {"row": 4, "column": 7},
"spec": {
 "width": 168,
 "height": 138,
 "resolve": {"axis": {"x": "independent", "y": "independent"}},
 "layer": [
  {"mark": {"type": "area", "opacity": 0.3},
   "encoding": {
    "x": {"field": "epoch", "type": "quantitative", "scale": {"domain": [-0.5, 10.5], "nice": false, "zero": false},
          "axis": {"title": null, "orient": "bottom", "values": [0,2,4,6,8,10], "gridWidth": 1}},
    "y": {"field": "lo", "type": "quantitative", "scale": {"domain": [0.006, 1.234], "nice": false, "zero": false},
          "axis": {"title": null, "orient": "left", "values": [0.25,0.5,0.75,1], "format": ".0%", "gridWidth": 1}},
    "y2": {"field": "hi"},
    "color": {"field": "norm", "type": "nominal", "scale": {"domain": ["L∞", "L2"], "range": ["#F8766D", "#00BFC4"]},
              "legend": {"title": "Norm", "orient": "none", "legendX": 715, "legendY": 91, "symbolType": "stroke", "symbolStrokeWidth": 2, "symbolSize": 180, "symbolOpacity": 1}},
    "detail": {"field": "set"}
   }},
  {"mark": {"type": "line", "strokeWidth": 1.6},
   "encoding": {
    "x": {"field": "epoch", "type": "quantitative",
          "axis": {"title": null, "orient": "bottom", "values": [1,3,5,7,9], "labels": false, "ticks": false, "gridWidth": 0.5}},
    "y": {"field": "rate", "type": "quantitative",
          "axis": {"title": null, "orient": "left", "values": [0.125,0.375,0.625,0.875], "labels": false, "ticks": false, "gridWidth": 0.5}},
    "color": {"field": "norm", "type": "nominal"},
    "strokeDash": {"field": "set", "type": "nominal", "scale": {"domain": ["Test", "Val."], "range": [[1, 0], [4, 3]]},
                   "legend": {"title": "Dataset", "orient": "none", "legendX": 715, "legendY": 166, "symbolType": "stroke", "symbolStrokeColor": "#3366FF", "symbolStrokeWidth": 2, "symbolSize": 180}}
   }},
  {"transform": [{"aggregate": [{"op": "count", "as": "n"}], "groupby": ["model"]}],
   "mark": {"type": "rect", "fill": "#d9d9d9", "stroke": "#333333", "strokeWidth": 1},
   "encoding": {
    "x": {"datum": -0.5, "type": "quantitative", "axis": null}, "x2": {"datum": 10.5},
    "y": {"datum": 1.029, "type": "quantitative", "axis": null}, "y2": {"datum": 1.234}
   }},
  {"transform": [{"aggregate": [{"op": "count", "as": "n"}], "groupby": ["model"]}],
   "mark": {"type": "text", "fontSize": 12.5, "color": "#1a1a1a", "font": "Liberation Sans", "baseline": "middle", "align": "center"},
   "encoding": {
    "x": {"datum": 5, "type": "quantitative", "axis": null},
    "y": {"datum": 1.1315, "type": "quantitative", "axis": null},
    "text": {"field": "model", "type": "nominal"}
   }}
 ]
}
}],
"config": {
 "view": {"stroke": "#333333", "strokeWidth": 1},
 "font": "Liberation Sans",
 "header": {"labels": false, "title": null, "labelExpr": "''", "labelFontSize": 1, "labelPadding": 0},
 "axis": {"domain": false, "gridColor": "#ebebeb", "tickColor": "#333333", "tickSize": 3, "labelColor": "#4d4d4d", "labelFontSize": 10.5, "labelPadding": 2, "labelFont": "Liberation Sans"},
 "legend": {"titleFontSize": 13.2, "titleFontWeight": "normal", "titleColor": "#000000", "titleFont": "Liberation Sans", "labelFontSize": 10.5, "labelColor": "#1a1a1a", "labelFont": "Liberation Sans", "titlePadding": 6, "rowPadding": 1, "labelOffset": 6}
}
}
